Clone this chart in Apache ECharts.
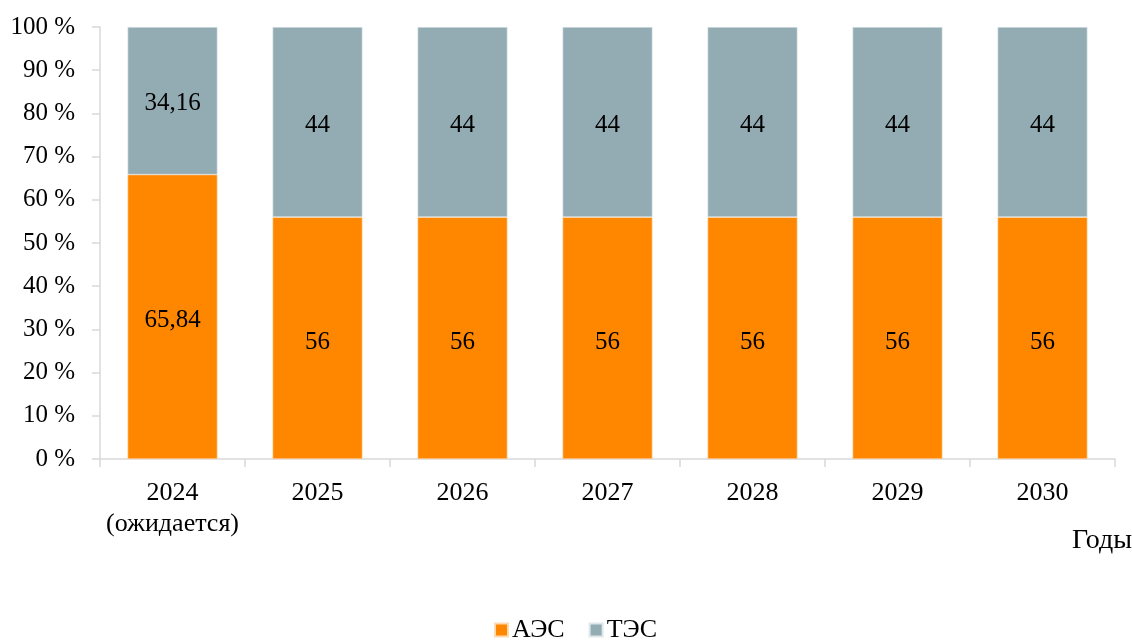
<!DOCTYPE html>
<html>
<head>
<meta charset="utf-8">
<script src="https://cdn.jsdelivr.net/npm/echarts@6/dist/echarts.min.js"></script>
<style>
  html, body { margin: 0; padding: 0; background: #fff; }
  #chart { width: 1132px; height: 641px; }
</style>
</head>
<body>
<div id="chart"></div>
<script>
// Структура выработки электроэнергии, %
const years = ['2024\n(ожидается)', '2025', '2026', '2027', '2028', '2029', '2030'];
const aes = [65.84, 56, 56, 56, 56, 56, 56];
const tes = [34.16, 44, 44, 44, 44, 44, 44];
const yTicks = [0, 10, 20, 30, 40, 50, 60, 70, 80, 90, 100];

const FONT = '"Liberation Serif", "DejaVu Serif", serif';
const AXIS_COLOR = '#d9d9d9';

const fmt = v => String(v).replace('.', ',');

const chart = echarts.init(document.getElementById('chart'));
chart.setOption({
  animation: false,
  textStyle: { fontFamily: FONT, color: '#000' },
  grid: { left: 100, right: 17, top: 27, bottom: 182 },
  legend: {
    top: 612,
    left: 489,
    icon: 'rect',
    itemWidth: 13,
    itemHeight: 13,
    itemGap: 24,
    textStyle: { fontFamily: FONT, fontSize: 26, color: '#000', padding: [2, 0, 0, -1] },
    data: ['АЭС', 'ТЭС']
  },
  xAxis: {
    type: 'category',
    data: years,
    axisLine: { lineStyle: { color: AXIS_COLOR, width: 1.5 } },
    axisTick: { show: true, length: 8, lineStyle: { color: AXIS_COLOR, width: 1.5 } },
    axisLabel: { interval: 0, fontFamily: FONT, fontSize: 26, color: '#000', margin: 19, lineHeight: 31 }
  },
  yAxis: {
    type: 'value',
    min: 0,
    max: 100,
    interval: 10,
    axisLine: { show: true, lineStyle: { color: AXIS_COLOR, width: 1.5 } },
    axisTick: { show: true, length: 8, lineStyle: { color: AXIS_COLOR, width: 1.5 } },
    splitLine: { show: false },
    axisLabel: {
      fontFamily: FONT, fontSize: 25, color: '#000', margin: 25,
      formatter: v => yTicks.includes(v) ? v + ' %' : ''
    }
  },
  graphic: [{
    type: 'text',
    right: 0,
    top: 527,
    style: { text: 'Годы', font: '28px ' + FONT, fill: '#000' }
  }],
  series: [
    {
      name: 'АЭС',
      type: 'bar',
      stack: 'total',
      data: aes,
      barWidth: '62%',
      itemStyle: { color: '#ff8700', borderColor: '#ffd9b0', borderWidth: 0.6 },
      label: {
        show: true, position: 'inside', offset: [0, 4], fontFamily: FONT, fontSize: 25, color: '#000',
        formatter: p => fmt(p.value)
      }
    },
    {
      name: 'ТЭС',
      type: 'bar',
      stack: 'total',
      data: tes,
      barWidth: '62%',
      itemStyle: { color: '#93abb3', borderColor: '#dfe7ea', borderWidth: 0.6 },
      label: {
        show: true, position: 'inside', offset: [0, 3], fontFamily: FONT, fontSize: 25, color: '#000',
        formatter: p => fmt(p.value)
      }
    }
  ]
});
</script>
</body>
</html>
